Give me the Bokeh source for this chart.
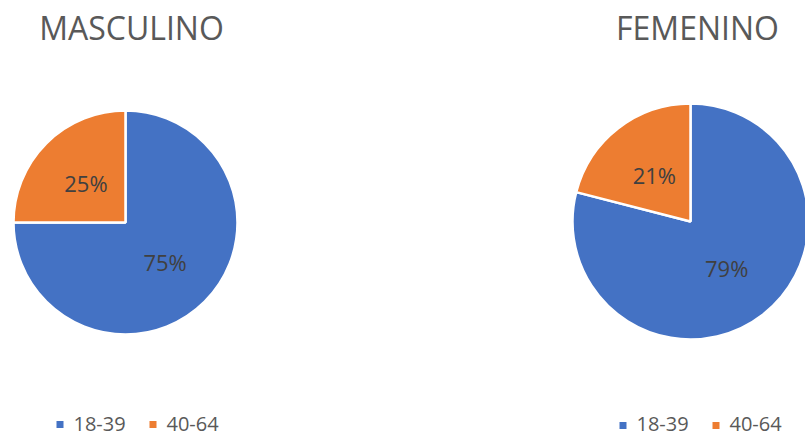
import math
from bokeh.plotting import figure
from bokeh.models import Range1d, ColumnDataSource
from bokeh.core.properties import value
from bokeh.embed import file_html
from bokeh.resources import INLINE

# ---- data ----
categories = ["18-39", "40-64"]
titles = ["MASCULINO", "FEMENINO"]
masculino = [75, 25]
femenino = [79, 21]
colors = ["#4472C4", "#ED7D31"]

W, H = 805, 436
p = figure(width=W, height=H, output_backend="svg", toolbar_location=None,
           x_range=Range1d(0, W), y_range=Range1d(0, H), min_border=0,
           outline_line_color=None, background_fill_color="white",
           border_fill_color="white")
p.axis.visible = False
p.grid.visible = False

FONT = "Open Sans"

def Y(y):
    return H - y

def pie(vals, cx, cy, r, title, tx, ty, legend_x, legend_y, text_y):
    total = float(sum(vals))
    frac = [v / total for v in vals]
    a_top = math.pi / 2
    a_split = a_top + frac[1] * 2 * math.pi
    starts = [a_split, a_top]
    ends = [a_top + 2 * math.pi, a_split]
    src = ColumnDataSource(dict(x=[cx, cx], y=[Y(cy), Y(cy)], s=starts, e=ends, c=colors))
    p.wedge(x="x", y="y", radius=r, start_angle="s", end_angle="e",
            fill_color="c", line_color="white", line_width=2.5, source=src)
    lx, ly, lt = [], [], []
    for i in range(2):
        mid = (starts[i] + ends[i]) / 2
        lx.append(cx + 0.5 * r * math.cos(mid))
        ly.append(Y(cy) + 0.5 * r * math.sin(mid))
        lt.append(f"{vals[i]}%")
    p.text(x=lx, y=ly, text=lt, text_align="center", text_baseline="middle",
           text_font=value(FONT), text_font_size="22px", text_color="#404040")
    p.text(x=[tx], y=[Y(ty)], text=[title], text_align="center", text_baseline="middle",
           text_font=value(FONT), text_font_size="32px", text_color="#595959")
    sq_x = [legend_x, legend_x + 93]
    p.rect(x=[x + 3.5 for x in sq_x], y=[Y(legend_y)] * 2, width=7, height=7,
           fill_color=colors, line_color=None)
    p.text(x=[x + 17 for x in sq_x], y=[Y(text_y)] * 2, text=categories,
           text_align="left", text_baseline="middle",
           text_font=value(FONT), text_font_size="20px", text_color="#595959")

pie(masculino, 125, 222, 112, titles[0], 131, 27, 56, 424, 423)
pie(femenino, 690, 221, 118, titles[1], 697, 27, 619, 425, 423)

open("out.html", "w").write(file_html(p, INLINE))
